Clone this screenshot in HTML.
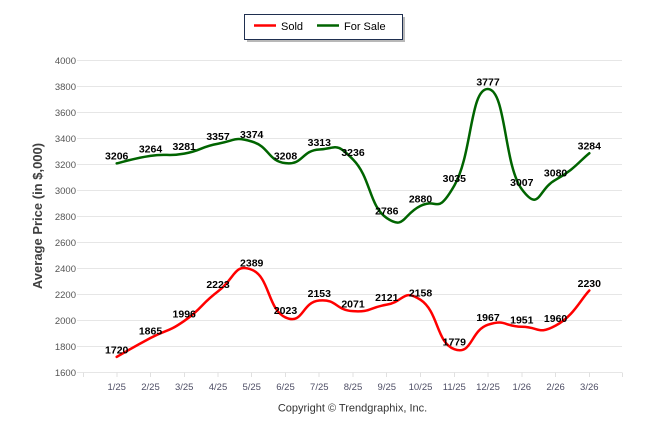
<!DOCTYPE html>
<html>
<head>
<meta charset="utf-8">
<style>
html,body{margin:0;padding:0;background:#fff;}
svg{display:block;}
text{font-family:"Liberation Sans",Arial,sans-serif;}
</style>
</head>
<body>
<svg width="646" height="434" viewBox="0 0 646 434" xmlns="http://www.w3.org/2000/svg">
<rect x="0" y="0" width="646" height="434" fill="#fff"/>
<!-- legend -->
<rect x="247" y="17" width="158" height="25" fill="#b8b8b8"/>
<rect x="244.5" y="14.5" width="158" height="25" fill="#fff" stroke="#1f2f50" stroke-width="1"/>
<line x1="254" y1="25.5" x2="276" y2="25.5" stroke="#ff0000" stroke-width="2.5"/>
<text x="281" y="30" font-size="11" fill="#000">Sold</text>
<line x1="317" y1="25.5" x2="339" y2="25.5" stroke="#006400" stroke-width="2.5"/>
<text x="344" y="30" font-size="11" fill="#000">For Sale</text>

<!-- gridlines -->
<g stroke="#e6e6e6" stroke-width="1">
<line x1="77" y1="60.5" x2="622" y2="60.5"/>
<line x1="77" y1="86.5" x2="622" y2="86.5"/>
<line x1="77" y1="112.5" x2="622" y2="112.5"/>
<line x1="77" y1="138.5" x2="622" y2="138.5"/>
<line x1="77" y1="164.5" x2="622" y2="164.5"/>
<line x1="77" y1="190.5" x2="622" y2="190.5"/>
<line x1="77" y1="216.5" x2="622" y2="216.5"/>
<line x1="77" y1="242.5" x2="622" y2="242.5"/>
<line x1="77" y1="268.5" x2="622" y2="268.5"/>
<line x1="77" y1="294.5" x2="622" y2="294.5"/>
<line x1="77" y1="320.5" x2="622" y2="320.5"/>
<line x1="77" y1="346.5" x2="622" y2="346.5"/>
<line x1="77" y1="372.5" x2="622" y2="372.5"/>
</g>
<!-- x ticks -->
<g stroke="#e0e0e0" stroke-width="1">
<line x1="83.5" y1="372.5" x2="83.5" y2="377"/>
<line x1="117" y1="372.5" x2="117" y2="377"/>
<line x1="150.5" y1="372.5" x2="150.5" y2="377"/>
<line x1="184.5" y1="372.5" x2="184.5" y2="377"/>
<line x1="218" y1="372.5" x2="218" y2="377"/>
<line x1="251.5" y1="372.5" x2="251.5" y2="377"/>
<line x1="285.5" y1="372.5" x2="285.5" y2="377"/>
<line x1="319" y1="372.5" x2="319" y2="377"/>
<line x1="353" y1="372.5" x2="353" y2="377"/>
<line x1="386.5" y1="372.5" x2="386.5" y2="377"/>
<line x1="420.5" y1="372.5" x2="420.5" y2="377"/>
<line x1="454.5" y1="372.5" x2="454.5" y2="377"/>
<line x1="488" y1="372.5" x2="488" y2="377"/>
<line x1="522" y1="372.5" x2="522" y2="377"/>
<line x1="555.5" y1="372.5" x2="555.5" y2="377"/>
<line x1="589.5" y1="372.5" x2="589.5" y2="377"/>
<line x1="622.5" y1="372.5" x2="622.5" y2="377"/>
</g>

<!-- y tick labels -->
<g font-size="9.5" fill="#555" text-anchor="end">
<text x="76" y="64">4000</text>
<text x="76" y="90">3800</text>
<text x="76" y="116">3600</text>
<text x="76" y="142">3400</text>
<text x="76" y="168">3200</text>
<text x="76" y="194">3000</text>
<text x="76" y="220">2800</text>
<text x="76" y="246">2600</text>
<text x="76" y="272">2400</text>
<text x="76" y="298">2200</text>
<text x="76" y="324">2000</text>
<text x="76" y="350">1800</text>
<text x="76" y="376">1600</text>
</g>

<!-- x labels -->
<g font-size="9.5" fill="#4f4f66" text-anchor="middle">
<text x="116.7" y="390">1/25</text>
<text x="150.5" y="390">2/25</text>
<text x="184.2" y="390">3/25</text>
<text x="218" y="390">4/25</text>
<text x="251.7" y="390">5/25</text>
<text x="285.5" y="390">6/25</text>
<text x="319.3" y="390">7/25</text>
<text x="353" y="390">8/25</text>
<text x="386.8" y="390">9/25</text>
<text x="420.5" y="390">10/25</text>
<text x="454.3" y="390">11/25</text>
<text x="488" y="390">12/25</text>
<text x="521.8" y="390">1/26</text>
<text x="555.6" y="390">2/26</text>
<text x="589.3" y="390">3/26</text>
</g>

<!-- axis title -->
<text transform="translate(42,216) rotate(-90)" font-size="13" font-weight="bold" fill="#404040" text-anchor="middle">Average Price (in $,000)</text>

<!-- copyright -->
<text x="352.5" y="411.5" font-size="11" fill="#333" text-anchor="middle">Copyright © Trendgraphix, Inc.</text>

<!-- For Sale series -->
<path fill="none" stroke="#006400" stroke-width="2.5" stroke-linejoin="round" stroke-linecap="round"
d="M116.7,163.39 C125.7,161.37 132.46,158.44 150.46,155.83 C168.46,153.22 166.22,156.85 184.22,153.62 C202.22,150.39 199.98,146.95 217.98,143.72 C235.98,140.49 233.74,136.33 251.74,141.51 C269.74,146.69 267.5,161.01 285.5,163.13 C303.5,165.25 301.26,150.42 319.26,149.45 C337.26,148.48 335.02,141.18 353.02,159.48 C371.02,177.78 368.78,205.71 386.78,218.07 C404.78,230.43 402.54,214.49 420.54,205.84 C438.54,197.19 436.3,216.8 454.3,185.65 C472.3,154.5 470.06,88.07 488.06,89.04 C506.06,90.01 503.82,165.1 521.82,189.3 C539.82,213.5 537.58,189.41 555.58,179.79 C573.58,170.17 580.34,160.31 589.34,153.23"/>

<!-- Sold series -->
<path fill="none" stroke="#ff0000" stroke-width="2.5" stroke-linejoin="round" stroke-linecap="round"
d="M116.7,356.88 C125.7,351.84 132.46,347.59 150.46,338 C168.46,328.41 166.22,333.37 184.22,320.94 C202.22,308.51 199.98,305.03 217.98,291.38 C235.98,277.73 233.74,262.82 251.74,269.77 C269.74,276.72 267.5,309.23 285.5,317.43 C303.5,325.63 301.26,302.17 319.26,300.5 C337.26,298.83 335.02,310.07 353.02,311.18 C371.02,312.29 368.78,307.68 386.78,304.66 C404.78,301.64 402.54,287.97 420.54,299.85 C438.54,311.73 436.3,342.57 454.3,349.2 C472.3,355.83 470.06,330.69 488.06,324.72 C506.06,318.75 503.82,326.56 521.82,326.8 C539.82,327.04 537.58,335.32 555.58,325.63 C573.58,315.94 580.34,299.85 589.34,290.47"/>

<!-- For Sale labels -->
<g font-size="10.5" font-weight="bold" fill="#000" text-anchor="middle">
<text x="116.7" y="159.5">3206</text>
<text x="150.5" y="152.3">3264</text>
<text x="184.2" y="150.1">3281</text>
<text x="218" y="140.2">3357</text>
<text x="251.7" y="138">3374</text>
<text x="285.5" y="159.6">3208</text>
<text x="319.3" y="145.9">3313</text>
<text x="353" y="156">3236</text>
<text x="386.8" y="214.6">2786</text>
<text x="420.5" y="202.3">2880</text>
<text x="454.3" y="182.1">3035</text>
<text x="488" y="85.5">3777</text>
<text x="521.8" y="185.8">3007</text>
<text x="555.6" y="176.3">3080</text>
<text x="589.3" y="149.7">3284</text>
</g>

<!-- Sold labels -->
<g font-size="10.5" font-weight="bold" fill="#000" text-anchor="middle">
<text x="116.7" y="353.4">1720</text>
<text x="150.5" y="334.5">1865</text>
<text x="184.2" y="317.4">1996</text>
<text x="218" y="287.9">2223</text>
<text x="251.7" y="266.3">2389</text>
<text x="285.5" y="313.9">2023</text>
<text x="319.3" y="297">2153</text>
<text x="353" y="307.7">2071</text>
<text x="386.8" y="301.2">2121</text>
<text x="420.5" y="296.4">2158</text>
<text x="454.3" y="345.7">1779</text>
<text x="488" y="321.2">1967</text>
<text x="521.8" y="323.3">1951</text>
<text x="555.6" y="322.1">1960</text>
<text x="589.3" y="287">2230</text>
</g>
</svg>
</body>
</html>
